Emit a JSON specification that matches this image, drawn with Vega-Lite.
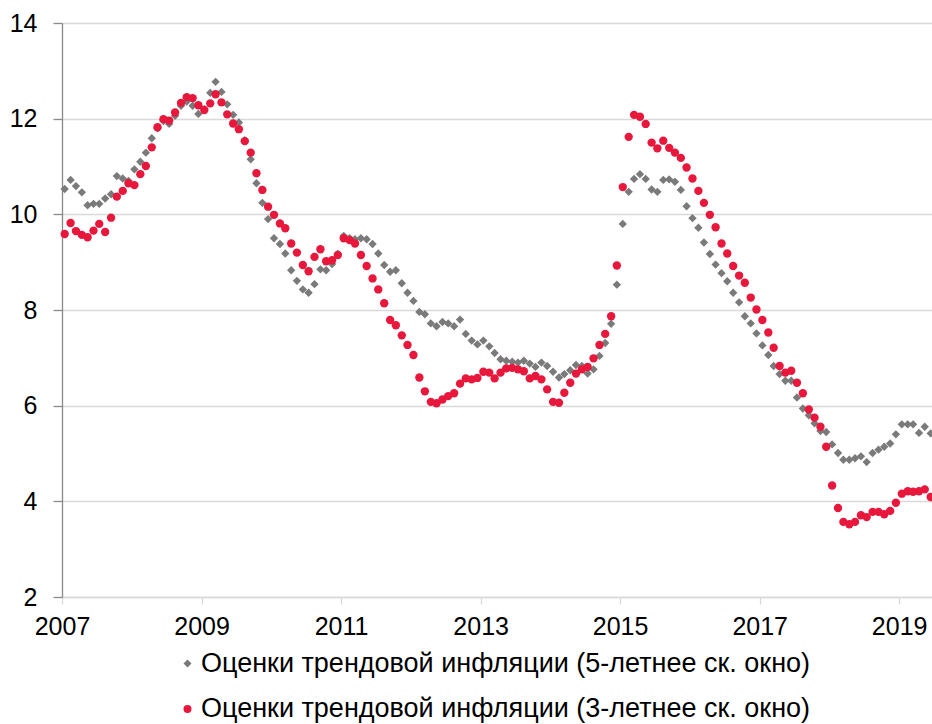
{
  "$schema": "https://vega.github.io/schema/vega-lite/v6.json",
  "width": 870,
  "height": 574,
  "autosize": {"type": "none"},
  "padding": {"left": 62, "top": 23, "right": 0, "bottom": 127},
  "background": "white",
  "config": {
    "font": "Liberation Sans",
    "view": {"stroke": null}
  },
  "data": {
    "values": [
      {"d":"2007-01-15","g":10.53,"r":9.59},{"d":"2007-02-15","g":10.72,"r":9.82},{"d":"2007-03-15","g":10.59,"r":9.65},{"d":"2007-04-15","g":10.46,"r":9.57},{"d":"2007-05-15","g":10.19,"r":9.52},{"d":"2007-06-15","g":10.22,"r":9.66},{"d":"2007-07-15","g":10.22,"r":9.80},{"d":"2007-08-15","g":10.33,"r":9.63},{"d":"2007-09-15","g":10.42,"r":9.93},{"d":"2007-10-15","g":10.80,"r":10.37},{"d":"2007-11-15","g":10.75,"r":10.49},{"d":"2007-12-15","g":10.70,"r":10.65},
      {"d":"2008-01-15","g":10.94,"r":10.61},{"d":"2008-02-15","g":11.10,"r":10.84},{"d":"2008-03-15","g":11.29,"r":11.01},{"d":"2008-04-15","g":11.59,"r":11.40},{"d":"2008-05-15","g":11.80,"r":11.82},{"d":"2008-06-15","g":11.95,"r":11.99},{"d":"2008-07-15","g":11.89,"r":11.96},{"d":"2008-08-15","g":12.06,"r":12.13},{"d":"2008-09-15","g":12.27,"r":12.33},{"d":"2008-10-15","g":12.36,"r":12.45},{"d":"2008-11-15","g":12.27,"r":12.43},{"d":"2008-12-15","g":12.10,"r":12.28},
      {"d":"2009-01-15","g":12.20,"r":12.18},{"d":"2009-02-15","g":12.54,"r":12.32},{"d":"2009-03-15","g":12.77,"r":12.51},{"d":"2009-04-15","g":12.56,"r":12.34},{"d":"2009-05-15","g":12.30,"r":12.09},{"d":"2009-06-15","g":12.08,"r":11.90},{"d":"2009-07-15","g":11.92,"r":11.78},{"d":"2009-08-15","g":11.55,"r":11.53},{"d":"2009-09-15","g":11.15,"r":11.29},{"d":"2009-10-15","g":10.65,"r":10.86},{"d":"2009-11-15","g":10.24,"r":10.51},{"d":"2009-12-15","g":9.90,"r":10.16},
      {"d":"2010-01-15","g":9.50,"r":9.99},{"d":"2010-02-15","g":9.38,"r":9.81},{"d":"2010-03-15","g":9.18,"r":9.71},{"d":"2010-04-15","g":8.83,"r":9.39},{"d":"2010-05-15","g":8.61,"r":9.20},{"d":"2010-06-15","g":8.43,"r":8.94},{"d":"2010-07-15","g":8.36,"r":8.81},{"d":"2010-08-15","g":8.54,"r":9.11},{"d":"2010-09-15","g":8.85,"r":9.27},{"d":"2010-10-15","g":8.83,"r":9.02},{"d":"2010-11-15","g":8.96,"r":9.04},{"d":"2010-12-15","g":9.17,"r":9.15},
      {"d":"2011-01-15","g":9.55,"r":9.50},{"d":"2011-02-15","g":9.50,"r":9.46},{"d":"2011-03-15","g":9.48,"r":9.39},{"d":"2011-04-15","g":9.50,"r":9.15},{"d":"2011-05-15","g":9.48,"r":8.92},{"d":"2011-06-15","g":9.38,"r":8.66},{"d":"2011-07-15","g":9.18,"r":8.43},{"d":"2011-08-15","g":8.94,"r":8.14},{"d":"2011-09-15","g":8.80,"r":7.79},{"d":"2011-10-15","g":8.83,"r":7.68},{"d":"2011-11-15","g":8.56,"r":7.47},{"d":"2011-12-15","g":8.36,"r":7.27},
      {"d":"2012-01-15","g":8.19,"r":7.06},{"d":"2012-02-15","g":7.96,"r":6.59},{"d":"2012-03-15","g":7.91,"r":6.30},{"d":"2012-04-15","g":7.72,"r":6.08},{"d":"2012-05-15","g":7.66,"r":6.05},{"d":"2012-06-15","g":7.75,"r":6.13},{"d":"2012-07-15","g":7.72,"r":6.20},{"d":"2012-08-15","g":7.66,"r":6.26},{"d":"2012-09-15","g":7.80,"r":6.46},{"d":"2012-10-15","g":7.50,"r":6.57},{"d":"2012-11-15","g":7.36,"r":6.55},{"d":"2012-12-15","g":7.28,"r":6.58},
      {"d":"2013-01-15","g":7.36,"r":6.71},{"d":"2013-02-15","g":7.24,"r":6.69},{"d":"2013-03-15","g":7.10,"r":6.57},{"d":"2013-04-15","g":6.97,"r":6.69},{"d":"2013-05-15","g":6.94,"r":6.78},{"d":"2013-06-15","g":6.92,"r":6.79},{"d":"2013-07-15","g":6.90,"r":6.76},{"d":"2013-08-15","g":6.94,"r":6.72},{"d":"2013-09-15","g":6.88,"r":6.57},{"d":"2013-10-15","g":6.81,"r":6.62},{"d":"2013-11-15","g":6.90,"r":6.55},{"d":"2013-12-15","g":6.83,"r":6.34},
      {"d":"2014-01-15","g":6.71,"r":6.08},{"d":"2014-02-15","g":6.59,"r":6.06},{"d":"2014-03-15","g":6.66,"r":6.27},{"d":"2014-04-15","g":6.74,"r":6.48},{"d":"2014-05-15","g":6.85,"r":6.67},{"d":"2014-06-15","g":6.83,"r":6.76},{"d":"2014-07-15","g":6.67,"r":6.81},{"d":"2014-08-15","g":6.76,"r":6.99},{"d":"2014-09-15","g":7.04,"r":7.27},{"d":"2014-10-15","g":7.31,"r":7.50},{"d":"2014-11-15","g":7.71,"r":7.87},{"d":"2014-12-15","g":8.53,"r":8.93},
      {"d":"2015-01-15","g":9.80,"r":10.57},{"d":"2015-02-15","g":10.47,"r":11.62},{"d":"2015-03-15","g":10.74,"r":12.08},{"d":"2015-04-15","g":10.84,"r":12.04},{"d":"2015-05-15","g":10.74,"r":11.89},{"d":"2015-06-15","g":10.52,"r":11.50},{"d":"2015-07-15","g":10.47,"r":11.38},{"d":"2015-08-15","g":10.72,"r":11.54},{"d":"2015-09-15","g":10.73,"r":11.39},{"d":"2015-10-15","g":10.68,"r":11.29},{"d":"2015-11-15","g":10.51,"r":11.18},{"d":"2015-12-15","g":10.17,"r":10.98},
      {"d":"2016-01-15","g":9.92,"r":10.75},{"d":"2016-02-15","g":9.72,"r":10.49},{"d":"2016-03-15","g":9.41,"r":10.24},{"d":"2016-04-15","g":9.17,"r":9.99},{"d":"2016-05-15","g":8.95,"r":9.73},{"d":"2016-06-15","g":8.77,"r":9.39},{"d":"2016-07-15","g":8.60,"r":9.18},{"d":"2016-08-15","g":8.36,"r":8.92},{"d":"2016-09-15","g":8.16,"r":8.72},{"d":"2016-10-15","g":7.87,"r":8.57},{"d":"2016-11-15","g":7.72,"r":8.26},{"d":"2016-12-15","g":7.51,"r":8.01},
      {"d":"2017-01-15","g":7.26,"r":7.79},{"d":"2017-02-15","g":7.06,"r":7.53},{"d":"2017-03-15","g":6.83,"r":7.21},{"d":"2017-04-15","g":6.66,"r":6.83},{"d":"2017-05-15","g":6.52,"r":6.69},{"d":"2017-06-15","g":6.52,"r":6.73},{"d":"2017-07-15","g":6.17,"r":6.48},{"d":"2017-08-15","g":5.94,"r":6.26},{"d":"2017-09-15","g":5.80,"r":5.92},{"d":"2017-10-15","g":5.63,"r":5.75},{"d":"2017-11-15","g":5.47,"r":5.56},{"d":"2017-12-15","g":5.45,"r":5.14},
      {"d":"2018-01-15","g":5.19,"r":4.33},{"d":"2018-02-15","g":5.01,"r":3.86},{"d":"2018-03-15","g":4.87,"r":3.57},{"d":"2018-04-15","g":4.87,"r":3.52},{"d":"2018-05-15","g":4.90,"r":3.57},{"d":"2018-06-15","g":4.94,"r":3.71},{"d":"2018-07-15","g":4.82,"r":3.67},{"d":"2018-08-15","g":5.01,"r":3.78},{"d":"2018-09-15","g":5.08,"r":3.78},{"d":"2018-10-15","g":5.14,"r":3.73},{"d":"2018-11-15","g":5.21,"r":3.80},{"d":"2018-12-15","g":5.40,"r":3.97},
      {"d":"2019-01-15","g":5.61,"r":4.16},{"d":"2019-02-15","g":5.61,"r":4.21},{"d":"2019-03-15","g":5.61,"r":4.20},{"d":"2019-04-15","g":5.43,"r":4.21},{"d":"2019-05-15","g":5.56,"r":4.25},{"d":"2019-06-15","g":5.42,"r":4.09}
    ]
  },
  "transform": [
    {"fold": ["g", "r"], "as": ["series", "value"]}
  ],
  "mark": {"type": "point", "filled": true, "size": 70, "opacity": 1, "strokeWidth": 0},
  "encoding": {
    "x": {
      "field": "d",
      "type": "temporal",
      "scale": {"domain": ["2007-01-01", "2019-06-22"]},
      "axis": {
        "title": null,
        "format": "%Y",
        "values": [{"year": 2007}, {"year": 2009}, {"year": 2011}, {"year": 2013}, {"year": 2015}, {"year": 2017}, {"year": 2019}],
        "grid": false,
        "domainColor": "#D9D9D9",
        "domainWidth": 1.3,
        "tickColor": "#D9D9D9",
        "tickWidth": 1.3,
        "tickSize": 7,
        "labelFontSize": 25,
        "labelColor": "#000000",
        "labelPadding": 10,
        "labelFlush": false,
        "labelOverlap": false
      }
    },
    "y": {
      "field": "value",
      "type": "quantitative",
      "scale": {"domain": [2, 14], "nice": false, "zero": false},
      "axis": {
        "title": null,
        "values": [2, 4, 6, 8, 10, 12, 14],
        "grid": true,
        "gridColor": "#D9D9D9",
        "gridWidth": 1.3,
        "domainColor": "#898989",
        "domainWidth": 1.3,
        "tickColor": "#898989",
        "tickWidth": 1.3,
        "tickSize": 9,
        "labelFontSize": 25,
        "labelColor": "#000000",
        "labelPadding": 16
      }
    },
    "color": {
      "field": "series",
      "type": "nominal",
      "scale": {"domain": ["g", "r"], "range": ["#7A7A7A", "#E8173C"]},
      "legend": {
        "title": null,
        "orient": "none",
        "legendX": 112,
        "legendY": 627,
        "direction": "vertical",
        "padding": 0,
        "rowPadding": 17.5,
        "symbolSize": 64,
        "symbolStrokeWidth": 0,
        "labelFontSize": 27,
        "labelColor": "#000000",
        "labelOffset": 0,
        "labelLimit": 800,
        "labelExpr": "datum.value == 'g' ? 'Оценки трендовой инфляции (5-летнее ск. окно)' : 'Оценки трендовой инфляции (3-летнее ск. окно)'"
      }
    },
    "shape": {
      "field": "series",
      "type": "nominal",
      "scale": {"domain": ["g", "r"], "range": ["diamond", "circle"]}
    },
    "order": {"field": "series", "sort": "ascending"}
  }
}
